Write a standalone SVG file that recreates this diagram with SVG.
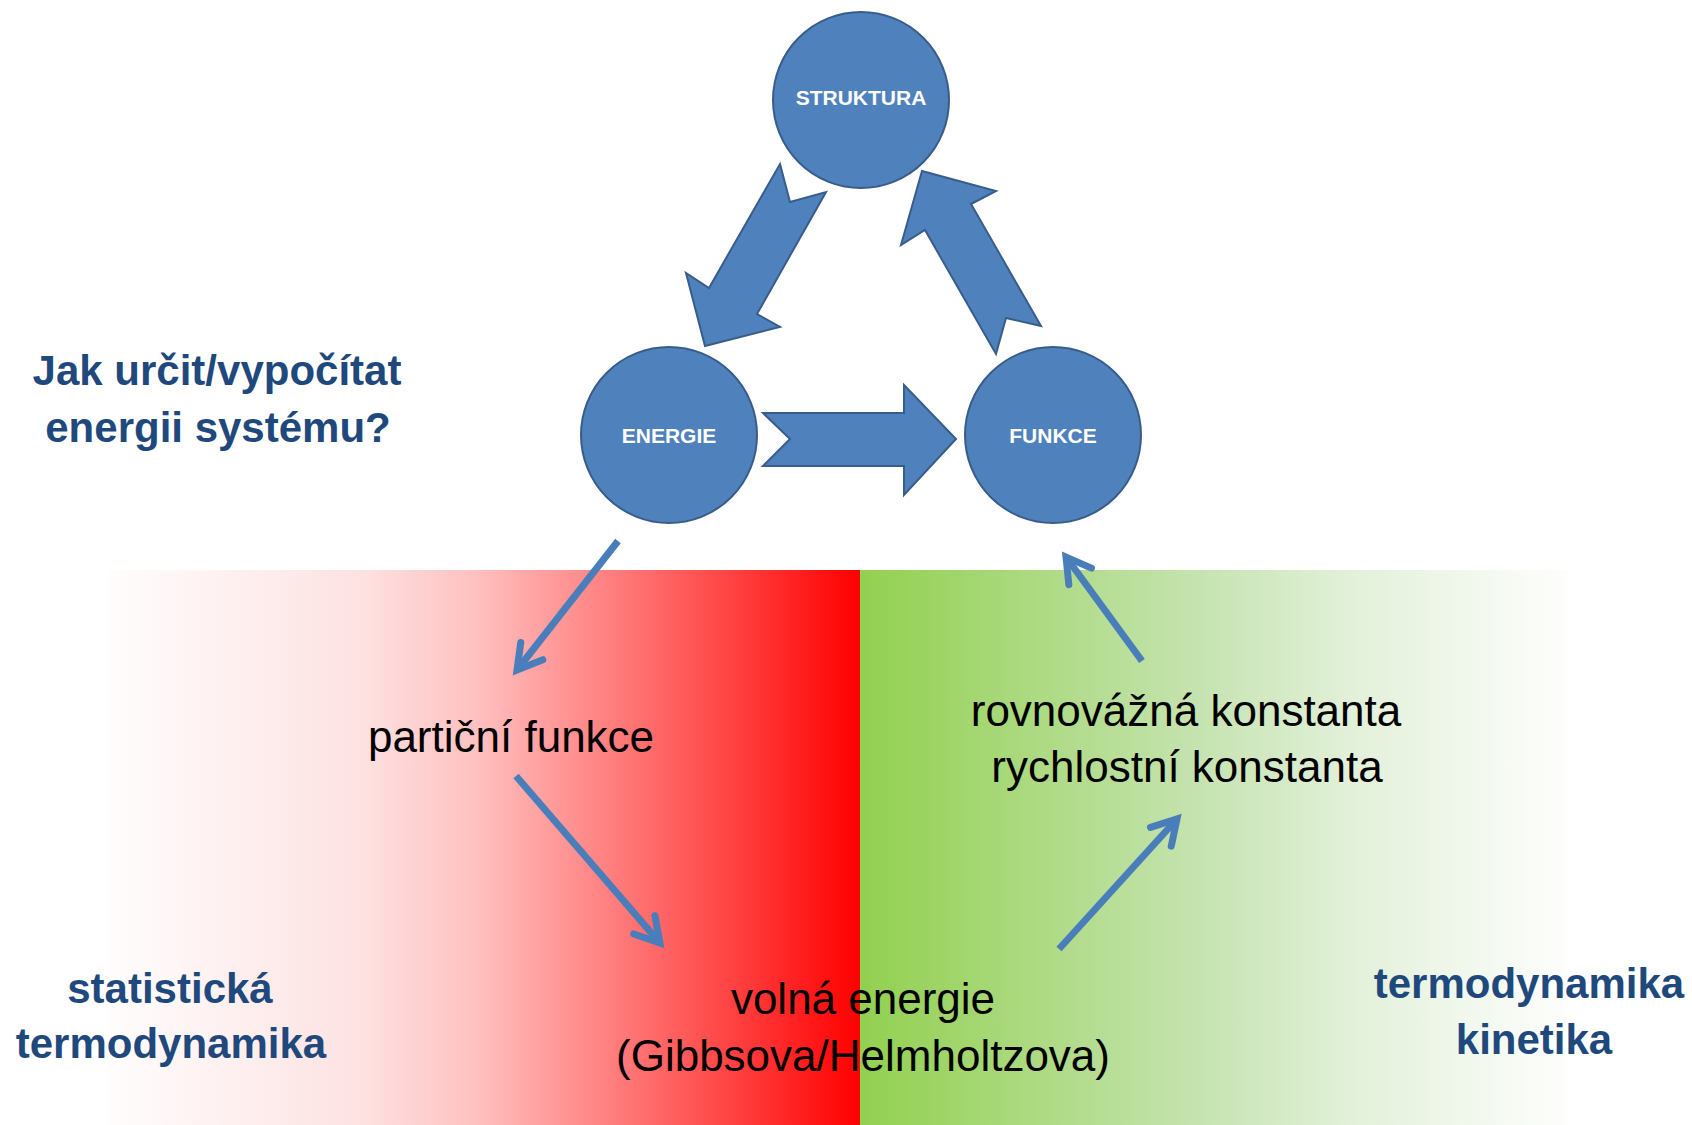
<svg xmlns="http://www.w3.org/2000/svg" width="1692" height="1125" viewBox="0 0 1692 1125">
<style>
.node{fill:#4F81BD;stroke:#385D8A;stroke-width:2}
.nlabel{font-family:"Liberation Sans",Arial,sans-serif;font-weight:bold;font-size:21px;fill:#FFFFFF;text-anchor:middle}
.big{fill:#4F81BD;stroke:#385D8A;stroke-width:2;stroke-linejoin:miter}
.thin{stroke:#4A7EBB;stroke-width:7;fill:none;marker-end:url(#head)}
.blue{font-family:"Liberation Sans",Arial,sans-serif;font-weight:bold;font-size:42px;fill:#1F497D;text-anchor:middle}
.black{font-family:"Liberation Sans",Arial,sans-serif;font-size:44px;fill:#000000;text-anchor:middle}
</style>
<defs>
<linearGradient id="redg" gradientUnits="userSpaceOnUse" x1="108" y1="0" x2="860" y2="0">
<stop offset="0" stop-color="#FFFDFD"/>
<stop offset="0.335" stop-color="#FDE2E2"/>
<stop offset="0.495" stop-color="#FFBFBF"/>
<stop offset="0.814" stop-color="#FF4848"/>
<stop offset="1" stop-color="#FF0000"/>
</linearGradient>
<linearGradient id="greeng" gradientUnits="userSpaceOnUse" x1="860" y1="0" x2="1580" y2="0">
<stop offset="0" stop-color="#92D050"/>
<stop offset="0.47" stop-color="#C5E3B0"/>
<stop offset="0.68" stop-color="#E2F0D9"/>
<stop offset="1" stop-color="#FFFFFF"/>
</linearGradient>
<marker id="head" markerUnits="userSpaceOnUse" viewBox="0 0 32 32" markerWidth="32" markerHeight="32" refX="26" refY="16" orient="auto" overflow="visible">
<path d="M2,2 L26,16 L2,30" fill="none" stroke="#4A7EBB" stroke-width="7" stroke-linecap="round" stroke-linejoin="miter"/>
</marker>
</defs>
<rect width="1692" height="1125" fill="#FFFFFF"/>
<g id="background">
<rect x="108" y="570" width="752" height="555" fill="url(#redg)"/>
<rect x="860" y="570" width="720" height="555" fill="url(#greeng)"/>
</g>
<g id="connectors">
<polygon class="big" points="780,164 790,202 826,192 757,314 780,327 705,346 686,273 709,288"/>
<polygon class="big" points="763,413 904,413 904,385 956,439 904,495 904,466 763,466 790,439"/>
<polygon class="big" points="922,171 996,191 971,204 1041,326 1006,318 996,354 925,230 901,245"/>
<line class="thin" x1="618" y1="541" x2="517" y2="670"/>
<line class="thin" x1="516" y1="776" x2="660" y2="943"/>
<line class="thin" x1="1059" y1="949" x2="1177" y2="819"/>
<line class="thin" x1="1142" y1="661" x2="1066" y2="557"/>
</g>
<g id="node-struktura">
<circle class="node" cx="861" cy="100" r="88"/>
<text class="nlabel" x="861" y="105">STRUKTURA</text>
</g>
<g id="node-energie">
<circle class="node" cx="669" cy="435" r="88"/>
<text class="nlabel" x="669" y="443">ENERGIE</text>
</g>
<g id="node-funkce">
<circle class="node" cx="1053" cy="435" r="88"/>
<text class="nlabel" x="1053" y="443">FUNKCE</text>
</g>
<g id="question">
<text class="blue" x="217" y="385">Jak určit/vypočítat</text>
<text class="blue" x="218" y="442">energii systému?</text>
</g>
<g id="label-stat">
<text class="blue" x="170" y="1003">statistická</text>
<text class="blue" x="171" y="1058">termodynamika</text>
</g>
<g id="label-termo">
<text class="blue" x="1529" y="998">termodynamika</text>
<text class="blue" x="1534" y="1054">kinetika</text>
</g>
<g id="node-particni">
<text class="black" x="511" y="752">partiční funkce</text>
</g>
<g id="node-konstanty">
<text class="black" x="1186" y="726">rovnovážná konstanta</text>
<text class="black" x="1187" y="782">rychlostní konstanta</text>
</g>
<g id="node-volna">
<text class="black" x="863" y="1014">volná energie</text>
<text class="black" x="863" y="1071">(Gibbsova/Helmholtzova)</text>
</g>
</svg>
